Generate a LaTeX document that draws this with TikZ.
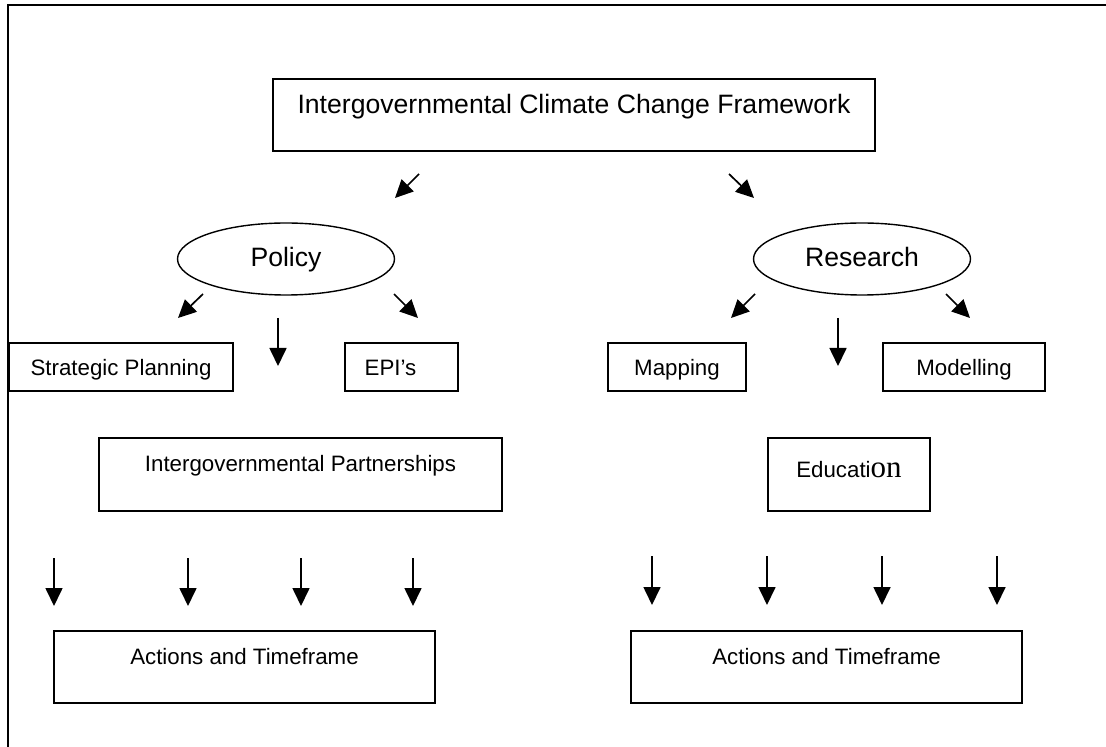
\documentclass[tikz,border=0pt]{standalone}
\usepackage{fontspec}
\setmainfont{Liberation Sans}
\newfontfamily\serifon{Liberation Serif}
\usetikzlibrary{shapes.geometric,arrows.meta}

\begin{document}
\begin{tikzpicture}[x=0.5pt,y=-0.5pt,
    box/.style={draw,line width=0.75pt,anchor=north west,inner sep=0pt,outer sep=0pt,
        font=\fontsize{11.15}{13}\selectfont},
    bigbox/.style={box,font=\fontsize{13.3}{16}\selectfont},
    oval/.style={draw,ellipse,line width=0.7pt,inner sep=0pt,minimum width=108.5pt,
        minimum height=36pt,text height=10pt,text depth=2pt,font=\fontsize{13.3}{16}\selectfont},
    arr/.style={line width=0.85pt,-{Triangle[length=9pt,width=8.5pt]}}]
                    % \helpgrid
                    \useasboundingbox (0,0) rectangle (1106,747);
                    \draw[line width=1pt] (1106,5) -- (8,5) -- (8,747);

                    \node[bigbox,minimum width=301pt,text height=17.5pt,text depth=18.5pt] (icf) at (273,79)
                        {Intergovernmental Climate Change Framework};

                    \node[oval] (pol) at (286,259) {Policy};
                    \node[oval] (res) at (862,259) {Research};

                    \node[box,minimum width=112pt,text height=16.5pt,text depth=7.5pt] (strat) at (9,343) {Strategic Planning};
                    \node[box,minimum width=56.5pt,text height=16.5pt,text depth=7.5pt] (epi) at (345,343) {EPI’s\hspace*{11pt}};
                    \node[box,minimum width=69pt,text height=16.5pt,text depth=7.5pt] (map) at (608,343) {Mapping};
                    \node[box,minimum width=81pt,text height=16.5pt,text depth=7.5pt] (mod) at (883,343) {Modelling};

                    \node[box,minimum width=201.5pt,text height=17pt,text depth=19.5pt] (igp) at (99,438)
                        {Intergovernmental Partnerships};
                    \node[box,minimum width=81pt,text height=20pt,text depth=16.5pt] (edu) at (768,438)
                        {Educati{\serifon\fontsize{15.5}{16}\selectfont on}};

                    \node[box,minimum width=190.5pt,text height=16.5pt,text depth=19.5pt] (actl) at (54,631)
                        {Actions and Timeframe};
                    \node[box,minimum width=195.5pt,text height=16.5pt,text depth=19.5pt] (actr) at (631,631)
                        {Actions and Timeframe};

                    % arrows under the framework
                    \coordinate (t1) at (419,174); \coordinate (t2) at (395,198);
                    \coordinate (t3) at (729,174); \coordinate (t4) at (754,198);
                    \draw[arr] (t1) -- (t2);
                    \draw[arr] (t3) -- (t4);

                    % arrows under policy and research
                    \coordinate (p1) at (203,294); \coordinate (p2) at (178,318);
                    \coordinate (p3) at (394,294); \coordinate (p4) at (418,318);
                    \coordinate (p5) at (278,318); \coordinate (p6) at (278,366);
                    \coordinate (r1) at (755,294); \coordinate (r2) at (731,318);
                    \coordinate (r3) at (946,294); \coordinate (r4) at (970,318);
                    \coordinate (r5) at (838,318); \coordinate (r6) at (838,366);
                    \draw[arr] (p1) -- (p2);
                    \draw[arr] (p3) -- (p4);
                    \draw[arr] (p5) -- (p6);
                    \draw[arr] (r1) -- (r2);
                    \draw[arr] (r3) -- (r4);
                    \draw[arr] (r5) -- (r6);

                    % arrows down to the actions
                    \foreach \x [count=\i] in {54,188,301,413} {
                        \coordinate (la\i) at (\x,558); \coordinate (lb\i) at (\x,606);
                        \draw[arr] (la\i) -- (lb\i);
                    }
                    \foreach \x [count=\i] in {652,767,882,997} {
                        \coordinate (ra\i) at (\x,556); \coordinate (rb\i) at (\x,605);
                        \draw[arr] (ra\i) -- (rb\i);
                    }

                \end{tikzpicture}
\end{document}
